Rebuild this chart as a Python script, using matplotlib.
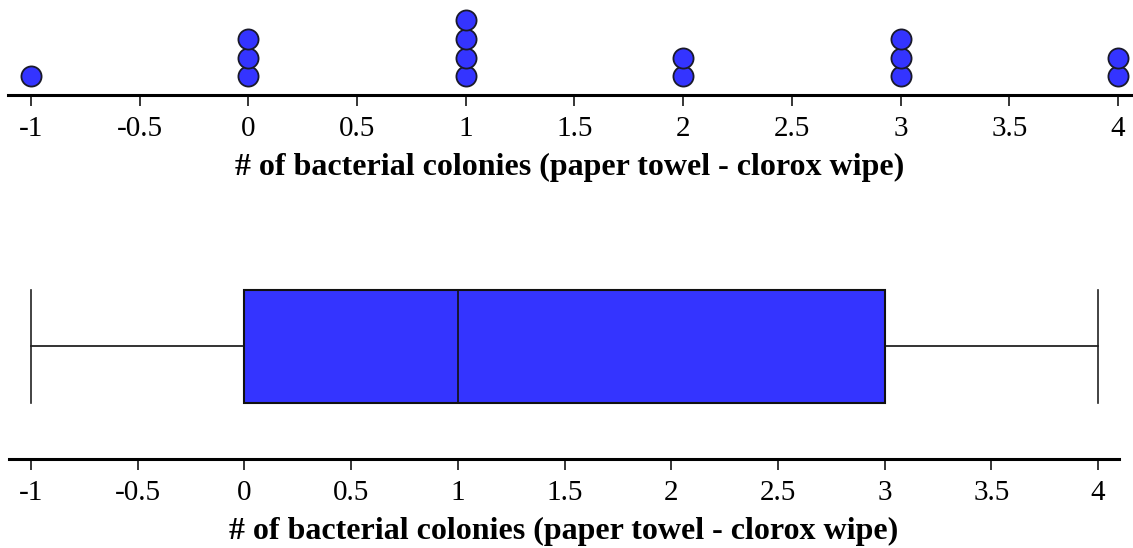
import numpy as np
import matplotlib.pyplot as plt

# dot plot data: value and number of observations
values = [-1, 0, 1, 2, 3, 4]
counts = [1, 3, 4, 2, 3, 2]

# five-number summary for the box plot
box_min, box_q1, box_med, box_q3, box_max = -1, 0, 1, 3, 4

ticks = [-1, -0.5, 0, 0.5, 1, 1.5, 2, 2.5, 3, 3.5, 4]
tick_labels = ['-1', '-0.5', '0', '0.5', '1', '1.5', '2', '2.5', '3', '3.5', '4']
xlabel = '# of bacterial colonies (paper towel - clorox wipe)'

plt.rcParams['font.family'] = ['Liberation Serif', 'DejaVu Serif']
plt.rcParams['axes.unicode_minus'] = False

W, H = 1133, 548
fig = plt.figure(figsize=(W / 100, H / 100), dpi=100)
blue = '#3434ff'


def style_axis(ax):
    for s in ['top', 'left', 'right']:
        ax.spines[s].set_visible(False)
    ax.spines['bottom'].set_linewidth(2.2)
    ax.set_yticks([])
    ax.set_xticks(ticks)
    ax.set_xticklabels(tick_labels)
    ax.tick_params(axis='x', length=8, width=1.1, pad=7, labelsize=21)
    ax.set_xlabel(xlabel, fontsize=23, fontweight='bold', labelpad=8)
    ax.patch.set_visible(False)


# top: dot plot
ax1 = fig.add_axes([8 / W, 1 - 95 / H, (1131 - 8) / W, 95 / H])
xs, ys = [], []
for v, c in zip(values, counts):
    for k in range(1, c + 1):
        xs.append(v)
        ys.append(k)
ax1.plot(xs, ys, 'o', ms=14.5, mfc=blue, mec='#1a1a2a', mew=1.3, clip_on=False)
ax1.set_xlim(-1.106, 4.06)
ax1.set_ylim(0, 95 / 18.7)
style_axis(ax1)

# bottom: box plot
ax2 = fig.add_axes([9 / W, 1 - 459 / H, (1119 - 9) / W, 189 / H])
stats = [dict(med=box_med, q1=box_q1, q3=box_q3, whislo=box_min, whishi=box_max, fliers=[])]
ax2.bxp(stats, positions=[113], widths=113, capwidths=113, orientation='horizontal',
        patch_artist=True, showfliers=False,
        boxprops=dict(facecolor=blue, edgecolor='#111111', linewidth=1.5),
        medianprops=dict(color='#111111', linewidth=1.2),
        whiskerprops=dict(color='#111111', linewidth=1.2),
        capprops=dict(color='#222222', linewidth=1.2))
ax2.set_xlim(-1.103, 4.098)
ax2.set_ylim(0, 189)
style_axis(ax2)

fig.savefig('out.png', dpi=100)
